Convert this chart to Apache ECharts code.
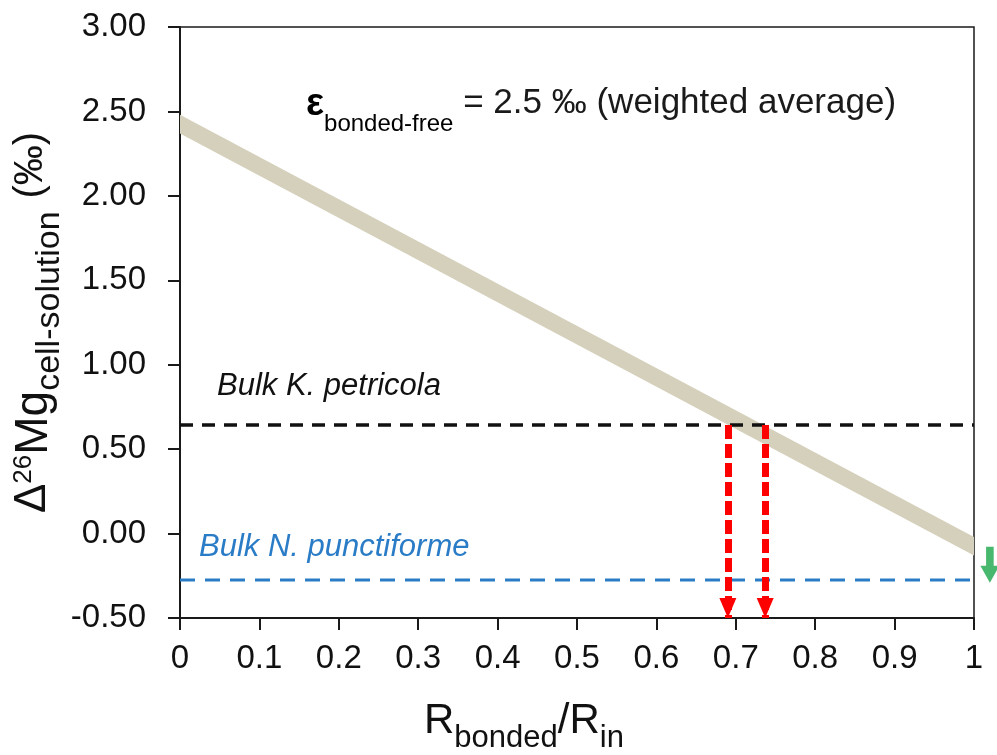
<!DOCTYPE html>
<html>
<head>
<meta charset="utf-8">
<script src="https://cdn.jsdelivr.net/npm/echarts@6/dist/echarts.min.js"></script>
<style>
  html, body { margin: 0; padding: 0; background: #ffffff; }
  #chart { width: 997px; height: 755px; }
</style>
</head>
<body>
<div id="chart"></div>
<script>
// Mg isotope mass balance: Δ26Mg(cell-solution) against the bonded fraction R_bonded/R_in
const ratioX = [0, 1];                 // R_bonded / R_in at the two ends of the model band
const bandLower = [2.37, -0.13];       // lower edge of the model band (‰)
const bandUpper = [2.48, -0.02];       // upper edge of the model band (‰)
const bulkPetricola = 0.643;           // bulk K. petricola Δ26Mg (‰)
const bulkPunctiforme = -0.275;        // bulk N. punctiforme Δ26Mg (‰)
const readOffX = [0.69, 0.737];        // where the band crosses the K. petricola level
const greenArrowAt = [1.02, -0.185];   // marker just right of the frame
const xTicks = [0, 0.1, 0.2, 0.3, 0.4, 0.5, 0.6, 0.7, 0.8, 0.9, 1];
const yTicks = [-0.5, 0, 0.5, 1, 1.5, 2, 2.5, 3];

const FONT = "'Liberation Sans', Arial, Helvetica, sans-serif";
const BAND_COLOR = '#d5d0bb';

const chart = echarts.init(document.getElementById('chart'), null, { renderer: 'canvas' });

const bandRows = ratioX.map((x, i) => [x, bandLower[i], bandUpper[i]]);
const levelLine = (v) => [[xTicks[0], v], [xTicks[xTicks.length - 1], v]];

const option = {
  backgroundColor: '#ffffff',
  animation: false,
  grid: {
    left: 180, right: 23, top: 27, bottom: 137,
    containLabel: false, outerBoundsMode: 'none',
    show: true, borderColor: '#1a1a1a', borderWidth: 1.5, backgroundColor: 'transparent'
  },
  xAxis: {
    type: 'value',
    min: xTicks[0], max: xTicks[xTicks.length - 1], interval: 0.1,
    axisLine: { show: true, onZero: false, lineStyle: { color: '#1a1a1a', width: 2 } },
    axisTick: { show: true, inside: false, length: 12, lineStyle: { color: '#1a1a1a', width: 2 } },
    axisLabel: {
      margin: 24, color: '#111', fontFamily: FONT, fontSize: 33,
      formatter: (v) => String(Math.round(v * 10) / 10)
    },
    splitLine: { show: false }
  },
  yAxis: {
    type: 'value',
    min: yTicks[0], max: yTicks[yTicks.length - 1], interval: 0.5,
    axisLine: { show: true, onZero: false, lineStyle: { color: '#1a1a1a', width: 2 } },
    axisTick: { show: true, inside: false, length: 12, lineStyle: { color: '#1a1a1a', width: 2 } },
    axisLabel: {
      margin: 34, color: '#111', fontFamily: FONT, fontSize: 33,
      formatter: (v) => v.toFixed(2)
    },
    splitLine: { show: false },
    name: '{d|Δ}{sup|26}{m|Mg}{sub|cell-solution}{m| }{pm|(‰)}',
    nameLocation: 'middle',
    nameRotate: 90,
    nameGap: 119,
    nameMoveOverlap: false,
    nameTextStyle: {
      color: '#111', fontFamily: FONT,
      rich: {
        d: { fontSize: 44, fontFamily: FONT, color: '#111', lineHeight: 50, verticalAlign: 'top' },
        sup: { fontSize: 26, fontFamily: FONT, color: '#111', lineHeight: 26, verticalAlign: 'top' },
        m: { fontSize: 46, fontFamily: FONT, color: '#111', lineHeight: 50, verticalAlign: 'top' },
        sub: { fontSize: 34, fontFamily: FONT, color: '#111', lineHeight: 34, verticalAlign: 'bottom', padding: [0, 0, -6, 0] },
        pm: { fontSize: 40, fontFamily: FONT, color: '#111', lineHeight: 50, verticalAlign: 'top' }
      }
    }
  },
  series: [
    {
      // model band: Δ26Mg predicted for ε(bonded-free) = 2.5 ‰
      type: 'custom', name: 'band', silent: true, z: 1,
      data: bandRows,
      encode: { x: 0, y: [1, 2] },
      renderItem: (params, api) => {
        const i = params.dataIndex;
        if (i >= bandRows.length - 1) return null;
        const pts = [
          api.coord([ratioX[i], bandUpper[i]]),
          api.coord([ratioX[i + 1], bandUpper[i + 1]]),
          api.coord([ratioX[i + 1], bandLower[i + 1]]),
          api.coord([ratioX[i], bandLower[i]])
        ];
        return { type: 'polygon', shape: { points: pts }, style: { fill: BAND_COLOR } };
      }
    },
    {
      type: 'line', name: 'Bulk K. petricola', data: levelLine(bulkPetricola),
      symbol: 'none', silent: true, z: 3,
      lineStyle: { color: '#111111', width: 3.5, type: [13, 9] }
    },
    {
      type: 'line', name: 'Bulk N. punctiforme', data: levelLine(bulkPunctiforme),
      symbol: 'none', silent: true, z: 3,
      lineStyle: { color: '#2a7cc6', width: 3.2, type: [15, 10] }
    },
    {
      // read-off arrows from the band down to the x axis
      type: 'line', name: 'read-off', data: [], silent: true, z: 4,
      markLine: {
        silent: true, animation: false,
        symbol: ['none', 'triangle'],
        symbolSize: [17, 20],
        symbolOffset: [[0, 0], [0, 10]],
        label: { show: false },
        lineStyle: { color: '#ff0000', width: 7, type: [14, 5] },
        data: readOffX.map((x) => [
          { coord: [x, bulkPetricola] },
          { coord: [x, yTicks[0]] }
        ])
      }
    },
    {
      type: 'scatter', name: 'marker', clip: false, silent: true, z: 5,
      data: [greenArrowAt],
      symbol: 'path://M3,0 L7,0 L7,9 L10,9 L5,17 L0,9 L3,9 Z',
      symbolSize: [19, 36],
      itemStyle: { color: '#1aa64a' }
    }
  ],
  graphic: [
    {
      type: 'text', left: 306, top: 86, silent: true,
      style: {
        text: '{e|ε}{s|bonded-free}{t| = 2.5 ‰ (weighted average)}',
        fontFamily: FONT,
        rich: {
          e: { fontSize: 38, fontWeight: 'bold', fontFamily: FONT, fill: '#000', lineHeight: 44, verticalAlign: 'top' },
          s: { fontSize: 24, fontFamily: FONT, fill: '#000', lineHeight: 24, verticalAlign: 'bottom', padding: [0, 0, -6, 0] },
          t: { fontSize: 35, fontFamily: FONT, fill: '#1a1a1a', lineHeight: 44, verticalAlign: 'top' }
        }
      }
    },
    {
      type: 'text', left: 217, top: 371, silent: true,
      style: { text: 'Bulk K. petricola', fontFamily: FONT, fontSize: 31, fontStyle: 'italic', fill: '#111' }
    },
    {
      type: 'text', left: 199, top: 532, silent: true,
      style: { text: 'Bulk N. punctiforme', fontFamily: FONT, fontSize: 31, fontStyle: 'italic', fill: '#2a7cc6' }
    },
    {
      // x-axis title
      type: 'text', left: 424, top: 700, silent: true,
      style: {
        text: '{r|R}{sub|bonded}{r|/R}{sub|in}',
        fontFamily: FONT,
        rich: {
          r: { fontSize: 42, fontFamily: FONT, fill: '#111', lineHeight: 46, verticalAlign: 'top' },
          sub: { fontSize: 31, fontFamily: FONT, fill: '#111', lineHeight: 31, verticalAlign: 'bottom', padding: [0, 0, -8, 0] }
        }
      }
    }
  ]
};

chart.setOption(option);
</script>
</body>
</html>
